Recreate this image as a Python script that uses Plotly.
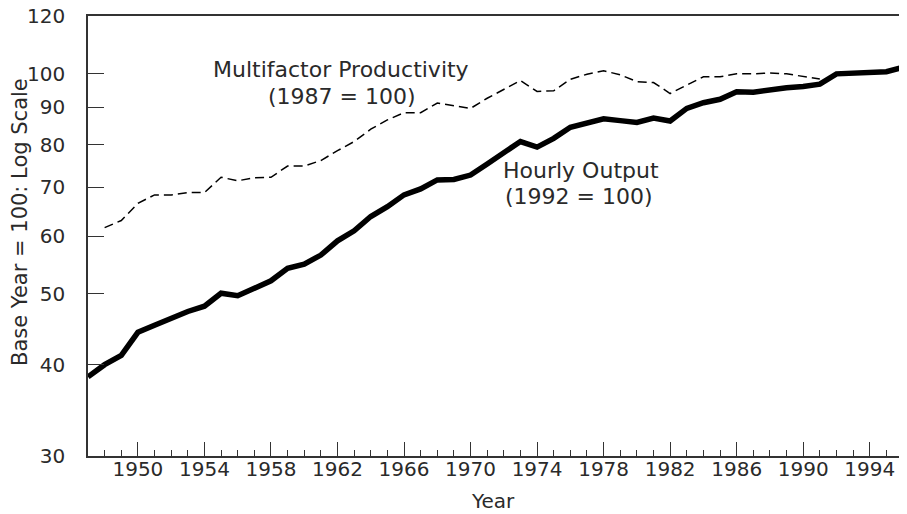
import math
import plotly.graph_objects as go

years_hourly = list(range(1947, 1997))
hourly_output = [38.5, 40.0, 41.2, 44.3, 45.3, 46.3, 47.3, 48.1, 50.1, 49.7,
                 51.0, 52.1, 54.2, 54.9, 56.5, 59.1, 61.0, 63.8, 65.8, 68.3,
                 69.6, 71.6, 71.7, 72.7, 75.3, 78.1, 80.8, 79.4, 81.6, 84.5,
                 85.8, 86.8, 86.3, 85.8, 87.0, 86.2, 89.7, 91.3, 92.3, 94.5,
                 94.4, 95.2, 95.7, 96.1, 96.8, 100.0, 100.2, 100.6, 100.7, 102.1]

years_mfp = list(range(1948, 1992))
multifactor = [61.6, 63.0, 66.5, 68.3, 68.3, 68.8, 68.8, 72.2, 71.4, 72.1,
               72.2, 74.8, 74.8, 76.1, 78.5, 80.8, 84.0, 86.5, 88.5, 88.5,
               91.2, 90.4, 89.7, 92.6, 95.2, 97.9, 94.6, 94.8, 98.3, 99.9,
               101.0, 99.7, 97.6, 97.3, 94.0, 96.6, 99.1, 99.1, 100.0, 100.0,
               100.3, 100.0, 99.3, 98.4]

y_ticks = [30, 40, 50, 60, 70, 80, 90, 100, 120]
x_ticks = list(range(1950, 1997, 4))

FONT = "DejaVu Sans, Liberation Sans, sans-serif"
TXT = "#2a2a2a"
AX = "#333333"

fig = go.Figure()
fig.add_trace(go.Scatter(x=years_mfp, y=multifactor, mode="lines",
                         line=dict(color="black", width=1.5, dash="9px,5px"),
                         showlegend=False))
fig.add_trace(go.Scatter(x=years_hourly, y=hourly_output, mode="lines",
                         line=dict(color="black", width=5.5),
                         showlegend=False))

fig.update_layout(
    width=907, height=506,
    margin=dict(l=80, r=12, t=8, b=58),
    paper_bgcolor="white", plot_bgcolor="white",
    font=dict(family=FONT, size=20, color=TXT),
    xaxis=dict(range=[1947, 1996], tickvals=x_ticks,
               ticktext=[str(v) for v in x_ticks],
               ticks="inside", ticklen=14, tickwidth=1.3, tickcolor=AX,
               minor=dict(dtick=1, tick0=1947, ticks="inside", ticklen=6,
                          tickwidth=1.2, tickcolor=AX, showgrid=False),
               showline=True, linecolor=AX, linewidth=1.5, mirror=True,
               showgrid=False, zeroline=False, automargin=False,
               ticklabelstandoff=-6, ticklabeloverflow="allow",
               tickfont=dict(size=20, color=TXT)),
    yaxis=dict(type="log",
               range=[math.log10(30) - 1e-9, math.log10(120) + 1e-9],
               tickvals=y_ticks, ticktext=[str(v) for v in y_ticks],
               ticks="inside", ticklen=16, tickwidth=1.3, tickcolor=AX,
               showline=True, linecolor=AX, linewidth=1.5, mirror=True,
               showgrid=False, zeroline=False, ticklabelstandoff=17,
               automargin=False, ticklabeloverflow="allow",
               tickfont=dict(size=20, color=TXT)),
    annotations=[
        dict(text="Multifactor Productivity", xref="paper", yref="paper",
             x=0.3104, y=0.8795, showarrow=False, xanchor="center", yanchor="middle",
             font=dict(size=22, color=TXT)),
        dict(text="(1987 = 100)", xref="paper", yref="paper",
             x=0.3117, y=0.816, showarrow=False, xanchor="center", yanchor="middle",
             font=dict(size=22, color=TXT)),
        dict(text="Hourly Output", xref="paper", yref="paper",
             x=0.605, y=0.648, showarrow=False, xanchor="center", yanchor="middle",
             font=dict(size=22, color=TXT)),
        dict(text="(1992 = 100)", xref="paper", yref="paper",
             x=0.603, y=0.589, showarrow=False, xanchor="center", yanchor="middle",
             font=dict(size=22, color=TXT)),
        dict(text="Base Year = 100: Log Scale", xref="paper", yref="paper",
             x=-0.0834, y=0.532, showarrow=False, textangle=-90,
             xanchor="center", yanchor="middle",
             font=dict(size=21, color=TXT)),
        dict(text="Year", xref="paper", yref="paper",
             x=0.497, y=-0.1023, showarrow=False,
             xanchor="center", yanchor="middle",
             font=dict(size=20, color=TXT)),
    ],
)

fig.write_html("out.html")
